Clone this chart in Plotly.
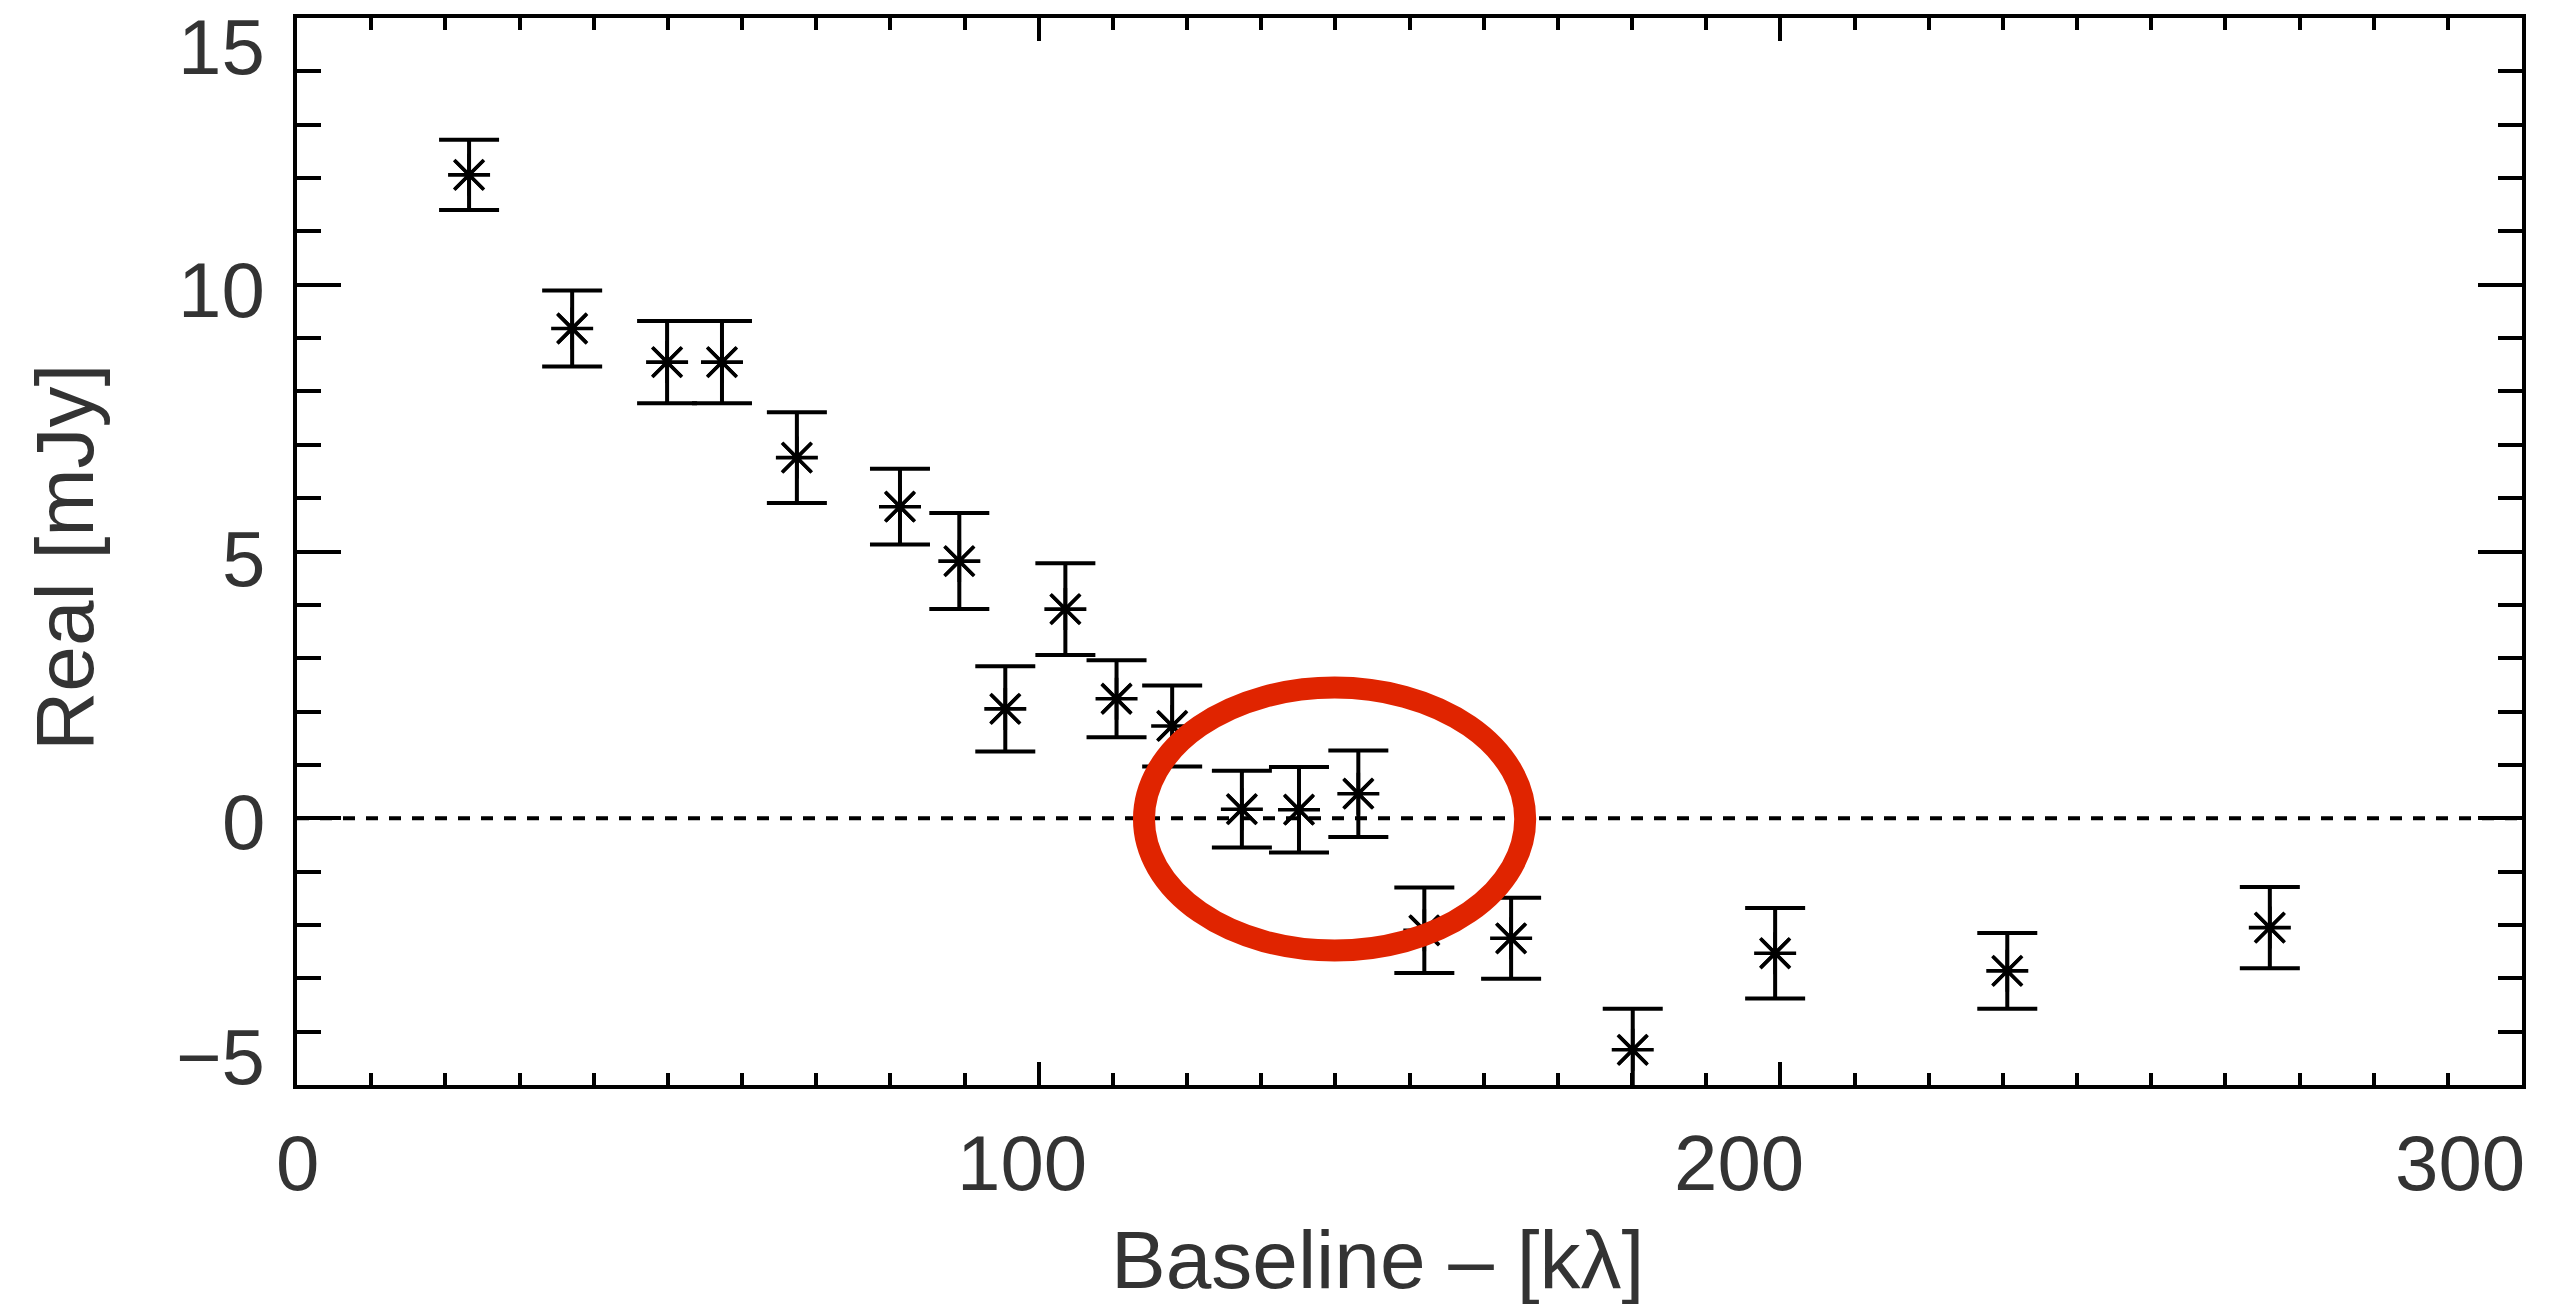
import plotly.graph_objects as go

# ---- data ----
baseline_kl = [23.2, 37.1, 49.9, 57.3, 67.4, 81.3, 89.3, 95.5, 103.6, 110.5,
               118.0, 127.4, 135.1, 143.1, 152.0, 163.7, 180.1, 199.3, 230.6, 266.0]
real_mjy = [12.06, 9.18, 8.55, 8.55, 6.76, 5.84, 4.82, 2.05, 3.92, 2.24,
            1.73, 0.17, 0.16, 0.46, -2.10, -2.25, -4.34, -2.53, -2.86, -2.05]
err_mjy = [0.66, 0.71, 0.77, 0.77, 0.85, 0.71, 0.90, 0.80, 0.86, 0.72,
           0.76, 0.72, 0.80, 0.81, 0.80, 0.76, 0.77, 0.85, 0.71, 0.76]

x_tick_vals = [0, 100, 200, 300]
x_tick_text = ["0", "100", "200", "300"]
x_label_shift = [0, -17, -41, -62]
y_tick_vals = [15, 10, 5, 0, -5]
y_tick_text = ["15", "10", "5", "0", "\u22125"]
y_label_shift = [-29, -5, -7, -4, 28]

x_title = "Baseline \u2013 [k\u03bb]"
y_title = "Real [mJy]"

# highlight ellipse (data coordinates)
ellipse_x = [114.2, 165.6]
ellipse_y = [-2.48, 2.45]

FONT = "Liberation Sans, Arial, sans-serif"
TXT = "#333333"

fig = go.Figure()
# asterisk body with error bars
fig.add_trace(go.Scatter(
    x=baseline_kl, y=real_mjy, mode="markers",
    marker=dict(symbol="asterisk-open", size=35, color="black",
                line=dict(color="black", width=3.6)),
    error_y=dict(type="data", array=err_mjy, visible=True,
                 color="black", thickness=4, width=30),
    showlegend=False, hoverinfo="x+y",
))
# longer diagonal spokes of the asterisk
fig.add_trace(go.Scatter(
    x=baseline_kl, y=real_mjy, mode="markers",
    marker=dict(symbol="x-thin-open", size=28, color="black",
                line=dict(color="black", width=3.4)),
    showlegend=False, hoverinfo="skip",
))

axis_common = dict(showgrid=False, zeroline=False, showline=True,
                   linecolor="black", linewidth=4, mirror="ticks",
                   ticks="inside", tickcolor="black", tickwidth=3.8,
                   showticklabels=False)

fig.update_xaxes(range=[0, 300], tickmode="array", tickvals=x_tick_vals,
                 ticklen=23,
                 minor=dict(dtick=10, ticklen=12, tickwidth=3.8,
                            tickcolor="black", ticks="inside"),
                 **axis_common)
fig.update_yaxes(range=[-5, 15], tickmode="array", tickvals=y_tick_vals,
                 ticklen=44,
                 minor=dict(dtick=1, ticklen=24, tickwidth=3.8,
                            tickcolor="black", ticks="inside"),
                 **axis_common)

annotations = []
for v, t, s in zip(x_tick_vals, x_tick_text, x_label_shift):
    annotations.append(dict(x=v, y=0, xref="x", yref="paper", text=t,
                            showarrow=False, xanchor="center", yanchor="middle",
                            xshift=s, yshift=-78,
                            font=dict(family=FONT, size=78, color=TXT)))
for v, t, s in zip(y_tick_vals, y_tick_text, y_label_shift):
    annotations.append(dict(x=0, y=v, xref="paper", yref="y", text=t,
                            showarrow=False, xanchor="right", yanchor="middle",
                            xshift=-30, yshift=s,
                            font=dict(family=FONT, size=78, color=TXT)))
annotations.append(dict(x=0.4854, y=0, xref="paper", yref="paper", text=x_title,
                        showarrow=False, xanchor="center", yanchor="middle",
                        yshift=-174,
                        font=dict(family=FONT, size=82, color=TXT)))
annotations.append(dict(x=0, y=0.494, xref="paper", yref="paper", text=y_title,
                        showarrow=False, xanchor="center", yanchor="middle",
                        xshift=-232, textangle=-90,
                        font=dict(family=FONT, size=82, color=TXT)))

shapes = [
    dict(type="line", xref="x", yref="y", x0=0, x1=300, y0=0, y1=0,
         line=dict(color="black", width=4, dash="12px,11px"), layer="below"),
    dict(type="circle", xref="x", yref="y",
         x0=ellipse_x[0], x1=ellipse_x[1], y0=ellipse_y[0], y1=ellipse_y[1],
         line=dict(color="#e02400", width=22), layer="above"),
]

fig.update_layout(
    width=2556, height=1304,
    margin=dict(l=297, r=34, t=18, b=219, autoexpand=False),
    paper_bgcolor="white", plot_bgcolor="white",
    annotations=annotations, shapes=shapes,
    font=dict(family=FONT, color=TXT),
)

fig.write_html("out.html")
